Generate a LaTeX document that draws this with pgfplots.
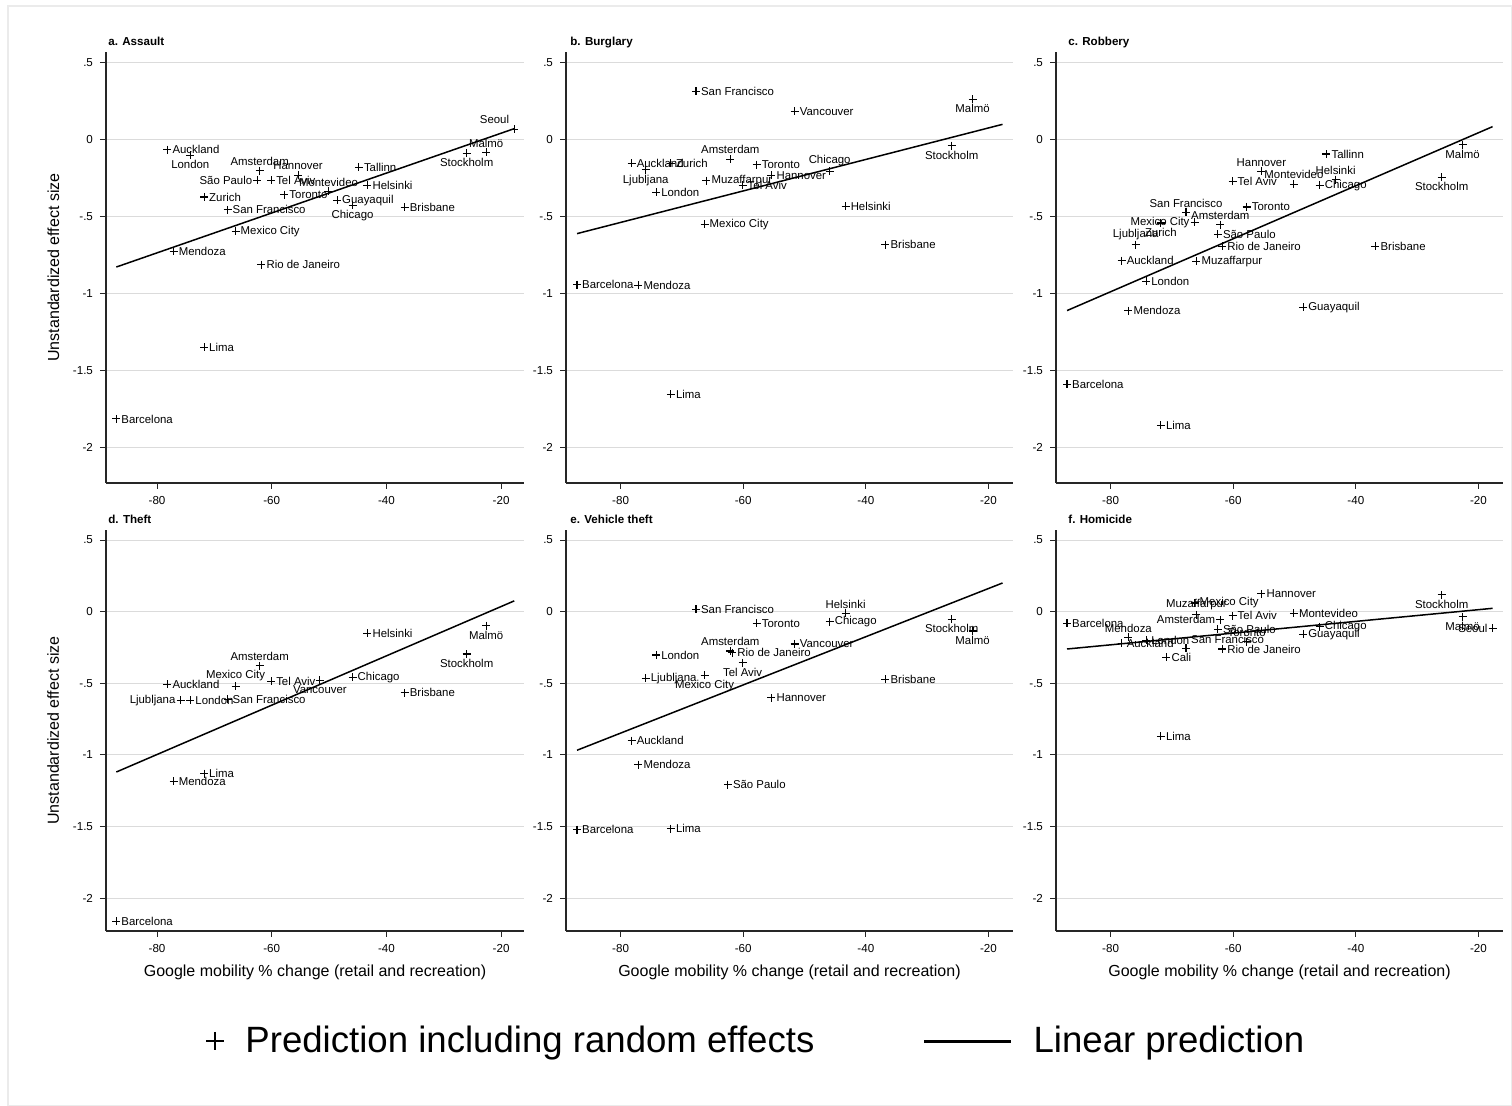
\documentclass[border=0pt]{standalone}
\usepackage{fontspec}
\setmainfont{Liberation Sans}
\usepackage{pgfplots}
\pgfplotsset{compat=1.18}
\usetikzlibrary{calc}

\newcommand\lblfont{\fontsize{5.7}{6.8}\selectfont}
\newcommand\tickfont{\fontsize{5.8}{7}\selectfont}
\newcommand\titlefont{\bfseries\fontsize{5.8}{7}\selectfont}
\newcommand\labfont{\fontsize{8}{9.6}\selectfont}
\newcommand\legfont{\fontsize{18.3}{22}\selectfont}

\pgfplotsset{
  panel/.style={
    scale only axis, width=223.5pt,
    xmin=-88.9, xmax=-16, ymin=-2.23, ymax=0.57,
    axis x line*=bottom, axis y line*=left,
    axis line style={black!85, line width=0.6pt},
    tick align=outside, major tick length=3pt,
    tick style={black!85, line width=0.5pt},
    xtick={-80,-60,-40,-20}, xticklabels={-80,-60,-40,-20},
    ytick={-2,-1.5,-1,-0.5,0,0.5}, yticklabels={-2,-1.5,-1,-.5,0,.5},
    ticklabel style={font=\tickfont, black},
    ymajorgrids, grid style={black!14, line width=0.5pt},
    clip=false,
    % the title sits 3pt above the plot box (6pt default shift minus 3pt)
    title style={at={(rel axis cs:0,1)}, anchor=base west, yshift=-3pt,
      font=\titlefont, inner sep=0pt},
    every axis x label/.style={at={($(rel axis cs:0.5,0)+(0,-23pt)$)},
      anchor=base, font=\labfont},
    every axis y label/.style={at={($(rel axis cs:0,0.5)+(-23.5pt,0)$)},
      anchor=base, rotate=90, font=\labfont},
  },
  % city predictions: "+" marks, name placed on the side given by #1
  cities/.style={
    only marks, mark=+, mark size=2pt,
    mark options={line width=0.55pt, black},
    point meta=explicit symbolic, nodes near coords,
    every node near coord/.append style={anchor=#1, font=\lblfont,
      inner sep=2.3pt, text=black},
  },
  fitline/.style={black, line width=0.75pt, no marks},
  table/citytab/.style={col sep=comma, x=x, y=y, meta=name},
  longline/.style={legend image code/.code={%
    \draw[##1] (0pt,0pt) -- (43.5pt,0pt);}},
}

\begin{document}
\begin{tikzpicture}
\path[use as bounding box] (0pt,0pt) rectangle (756pt,553pt);
\draw[black!8, line width=0.6pt] (4pt,0.3pt) rectangle (755.7pt,550pt);

% ---------------- a. Assault ----------------
\begin{axis}[panel, at={(53pt,311.5pt)}, anchor=south west,
  width=209pt, height=215.5pt,
  title={a. Assault}, title style={xshift=1pt},
  ylabel={Unstandardized effect size}]
\addplot[cities=west] table[citytab] {
x,y,name
-87.1,-1.814,Barcelona
-78.2,-0.065,Auckland
-77.1,-0.725,Mendoza
-71.8,-0.372,Zurich
-71.8,-1.348,Lima
-67.7,-0.455,San Francisco
-66.3,-0.595,Mexico City
-61.8,-0.812,Rio de Janeiro
-60.1,-0.264,Tel Aviv
-57.8,-0.357,Toronto
-48.6,-0.394,Guayaquil
-44.8,-0.180,Tallinn
-43.3,-0.297,Helsinki
-36.8,-0.439,Brisbane
};
\addplot[cities=north] table[citytab] {
x,y,name
-74.2,-0.100,London
-45.9,-0.427,Chicago
-26.0,-0.087,Stockholm
};
\addplot[cities=south] table[citytab] {
x,y,name
-62.1,-0.200,Amsterdam
-55.4,-0.230,Hannover
-50.1,-0.335,Montevideo
-22.6,-0.082,Malmö
};
\addplot[cities=east] table[citytab] {
x,y,name
-62.5,-0.264,São Paulo
};
\addplot[cities=south east] table[citytab] {
x,y,name
-17.7,0.069,Seoul
};
\addplot[fitline] coordinates {(-87.1,-0.827) (-17.7,0.072)};
\end{axis}

% ---------------- b. Burglary ----------------
\begin{axis}[panel, at={(283pt,311.5pt)}, anchor=south west,
  height=215.5pt, title={b. Burglary}, title style={xshift=2pt}]
\addplot[cities=west] table[citytab] {
x,y,name
-87.1,-0.942,Barcelona
-78.2,-0.152,Auckland
-77.1,-0.946,Mendoza
-74.2,-0.342,London
-71.8,-0.152,Zurich
-71.8,-1.654,Lima
-67.7,0.314,San Francisco
-66.3,-0.548,Mexico City
-66.0,-0.266,Muzaffarpur
-60.1,-0.297,Tel Aviv
-57.8,-0.162,Toronto
-55.4,-0.232,Hannover
-51.6,0.184,Vancouver
-43.3,-0.433,Helsinki
-36.8,-0.682,Brisbane
};
\addplot[cities=north] table[citytab] {
x,y,name
-75.9,-0.195,Ljubljana
-26.0,-0.039,Stockholm
-22.6,0.264,Malmö
};
\addplot[cities=south] table[citytab] {
x,y,name
-62.1,-0.126,Amsterdam
-45.9,-0.206,Chicago
};
\addplot[fitline] coordinates {(-87.1,-0.61) (-17.7,0.10)};
\end{axis}

% ---------------- c. Robbery ----------------
\begin{axis}[panel, at={(528pt,311.5pt)}, anchor=south west,
  height=215.5pt, title={c. Robbery}, title style={xshift=6pt}]
\addplot[cities=west] table[citytab] {
x,y,name
-87.1,-1.589,Barcelona
-78.2,-0.786,Auckland
-77.1,-1.110,Mendoza
-74.2,-0.920,London
-71.8,-1.855,Lima
-66.0,-0.790,Muzaffarpur
-62.5,-0.613,São Paulo
-61.8,-0.693,Rio de Janeiro
-60.1,-0.270,Tel Aviv
-57.8,-0.437,Toronto
-48.6,-1.089,Guayaquil
-45.9,-0.297,Chicago
-44.8,-0.093,Tallinn
-36.8,-0.693,Brisbane
};
\addplot[cities=north] table[citytab] {
x,y,name
-71.8,-0.541,Zurich
-26.0,-0.245,Stockholm
-22.6,-0.032,Malmö
};
\addplot[cities=south] table[citytab] {
x,y,name
-75.9,-0.682,Ljubljana
-67.7,-0.472,San Francisco
-62.1,-0.552,Amsterdam
-55.4,-0.206,Hannover
-50.1,-0.288,Montevideo
-43.3,-0.260,Helsinki
};
\addplot[cities=east] table[citytab] {
x,y,name
-66.3,-0.537,Mexico City
};
\addplot[fitline] coordinates {(-87.1,-1.11) (-17.7,0.085)};
\end{axis}

% ---------------- d. Theft ----------------
\begin{axis}[panel, at={(53pt,87.5pt)}, anchor=south west,
  width=209pt, height=200.5pt,
  title={d. Theft}, title style={xshift=1pt},
  ylabel={Unstandardized effect size},
  xlabel={Google mobility \% change (retail and recreation)}]
\addplot[cities=west] table[citytab] {
x,y,name
-87.1,-2.162,Barcelona
-78.2,-0.506,Auckland
-77.1,-1.185,Mendoza
-74.2,-0.618,London
-71.8,-1.131,Lima
-67.7,-0.613,San Francisco
-60.1,-0.485,Tel Aviv
-45.9,-0.459,Chicago
-43.3,-0.152,Helsinki
-36.8,-0.567,Brisbane
};
\addplot[cities=north] table[citytab] {
x,y,name
-51.6,-0.478,Vancouver
-26.0,-0.296,Stockholm
-22.6,-0.098,Malmö
};
\addplot[cities=south] table[citytab] {
x,y,name
-66.3,-0.520,Mexico City
-62.1,-0.378,Amsterdam
};
\addplot[cities=east] table[citytab] {
x,y,name
-75.9,-0.618,Ljubljana
};
\addplot[fitline] coordinates {(-87.1,-1.12) (-17.7,0.075)};
\end{axis}

% ---------------- e. Vehicle theft ----------------
\begin{axis}[panel, at={(283pt,87.5pt)}, anchor=south west,
  height=200.5pt, title={e. Vehicle theft}, title style={xshift=2pt},
  xlabel={Google mobility \% change (retail and recreation)}]
\addplot[cities=west] table[citytab] {
x,y,name
-87.1,-1.523,Barcelona
-78.2,-0.900,Auckland
-77.1,-1.068,Mendoza
-75.9,-0.466,Ljubljana
-74.2,-0.303,London
-71.8,-1.516,Lima
-67.7,0.016,San Francisco
-62.5,-1.208,São Paulo
-61.8,-0.287,Rio de Janeiro
-57.8,-0.082,Toronto
-55.4,-0.602,Hannover
-51.6,-0.226,Vancouver
-45.9,-0.070,Chicago
-36.8,-0.473,Brisbane
};
\addplot[cities=north] table[citytab] {
x,y,name
-66.3,-0.443,Mexico City
-60.1,-0.357,Tel Aviv
-26.0,-0.054,Stockholm
-22.6,-0.135,Malmö
};
\addplot[cities=south] table[citytab] {
x,y,name
-62.1,-0.275,Amsterdam
-43.3,-0.012,Helsinki
};
\addplot[fitline] coordinates {(-87.1,-0.968) (-17.7,0.20)};
\end{axis}

% ---------------- f. Homicide ----------------
\begin{axis}[panel, at={(528pt,87.5pt)}, anchor=south west,
  height=200.5pt, title={f. Homicide}, title style={xshift=6pt},
  xlabel={Google mobility \% change (retail and recreation)}]
\addplot[cities=west] table[citytab] {
x,y,name
-87.1,-0.082,Barcelona
-78.2,-0.222,Auckland
-74.2,-0.200,London
-70.9,-0.320,Cali
-71.8,-0.870,Lima
-66.3,0.060,Mexico City
-62.5,-0.124,São Paulo
-61.8,-0.261,Rio de Janeiro
-60.1,-0.030,Tel Aviv
-55.4,0.124,Hannover
-50.1,-0.012,Montevideo
-48.6,-0.159,Guayaquil
-45.9,-0.105,Chicago
};
\addplot[cities=north] table[citytab] {
x,y,name
-26.0,0.117,Stockholm
-22.6,-0.035,Malmö
};
\addplot[cities=south] table[citytab] {
x,y,name
-77.1,-0.180,Mendoza
-66.0,-0.023,Muzaffarpur
-57.8,-0.210,Toronto
};
\addplot[cities=east] table[citytab] {
x,y,name
-62.1,-0.058,Amsterdam
-17.7,-0.117,Seoul
};
\addplot[cities=south west] table[citytab] {
x,y,name
-67.7,-0.257,San Francisco
};
\addplot[fitline] coordinates {(-87.1,-0.261) (-17.7,0.023)};
\end{axis}

% ---------------- shared legend ----------------
\begin{axis}[at={(0pt,0pt)}, anchor=south west, scale only axis,
  width=756pt, height=60pt, hide axis,
  xmin=0, xmax=1, ymin=0, ymax=1,
  legend columns=2, legend cell align=left,
  legend style={at={(0.136,0.54)}, anchor=west, draw=none, fill=none,
    font=\legfont, inner sep=0pt,
    /tikz/every odd column/.append style={column sep=8.5pt},
    /tikz/every even column/.append style={column sep=52pt}}]
\addlegendimage{only marks, mark=+, mark size=4.6pt,
  mark options={line width=1pt, black}}
\addlegendentry{Prediction including random effects}
\addlegendimage{black, line width=1.6pt, longline}
\addlegendentry{Linear prediction}
\end{axis}
\end{tikzpicture}
\end{document}
